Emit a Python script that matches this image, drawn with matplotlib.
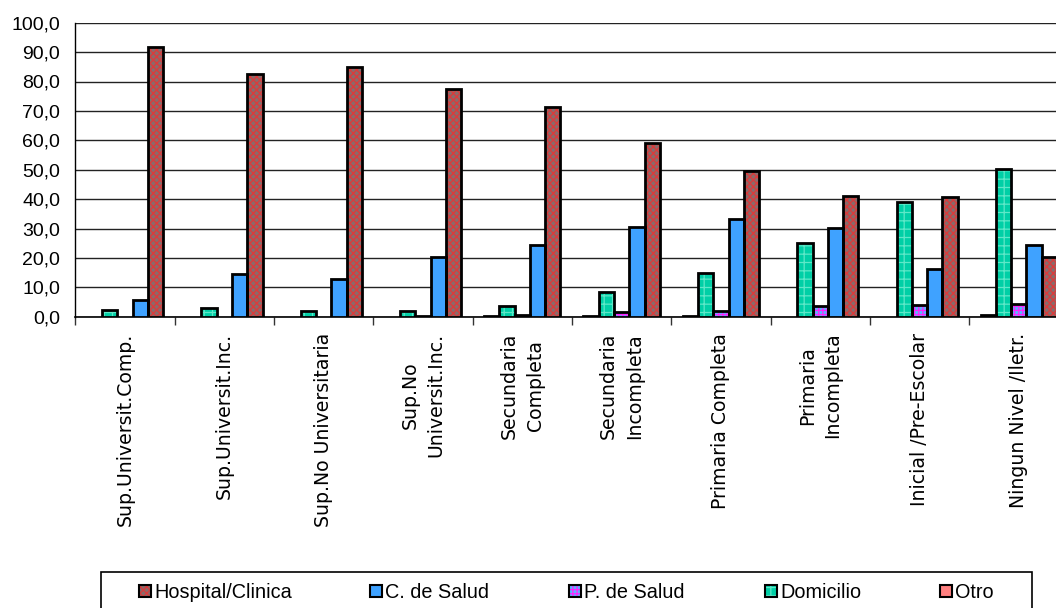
import numpy as np
import matplotlib
matplotlib.use("Agg")
import matplotlib.pyplot as plt
from matplotlib.patches import Patch, Rectangle

categories = ["Sup.Universit.Comp.", "Sup.Universit.Inc.", "Sup.No Universitaria",
              "Sup.No\nUniversit.Inc.", "Secundaria\nCompleta", "Secundaria\nIncompleta",
              "Primaria Completa", "Primaria\nIncompleta", "Inicial /Pre-Escolar",
              "Ningun Nivel /Iletr."]

hospital = [91.8, 82.5, 85.0, 77.3, 71.3, 59.2, 49.6, 41.2, 40.8, 20.2]
c_salud = [5.8, 14.5, 12.9, 20.4, 24.4, 30.6, 33.2, 30.1, 16.3, 24.4]
p_salud = [0.0, 0.0, 0.0, 0.3, 0.5, 1.5, 1.8, 3.6, 4.0, 4.3]
domicilio = [2.3, 3.0, 2.1, 2.0, 3.6, 8.4, 14.9, 25.0, 38.9, 50.3]
otro = [0.0, 0.0, 0.0, 0.0, 0.1, 0.1, 0.2, 0.0, 0.0, 0.7]

series_names = ["Hospital/Clinica", "C. de Salud", "P. de Salud", "Domicilio", "Otro"]
yticks = list(range(0, 101, 10))
ytick_labels = [f"{v:.1f}".replace(".", ",") for v in yticks]

# style: (facecolor, hatch, hatchcolor)
styles = {
    "Hospital/Clinica": ("#8a6a6a", "xxxxx", "#dd3a3a"),
    "C. de Salud": ("#3fa2ff", "", "#3fa2ff"),
    "P. de Salud": ("#5fb0ff", "++++", "#ff22ff"),
    "Domicilio": ("#00cfa6", "++", "#5ee8c8"),
    "Otro": ("#ff8080", "", "#ff8080"),
}

plt.rcParams["hatch.linewidth"] = 0.9
W, H = 1056, 608
fig = plt.figure(figsize=(W / 100, H / 100), dpi=100)
left_px, right_px, top_px, bot_px = 75.3, 1068.5, 22.7, 316.7
ax = fig.add_axes([left_px / W, 1 - bot_px / H, (right_px - left_px) / W, (bot_px - top_px) / H])

n_cat = len(categories)
x = np.arange(n_cat) + 0.5
bw = 0.154
# drawing order within group (left to right): Otro, Domicilio, P. de Salud, C. de Salud, Hospital
order = [("Otro", otro), ("Domicilio", domicilio), ("P. de Salud", p_salud),
         ("C. de Salud", c_salud), ("Hospital/Clinica", hospital)]
handles = {}
for i, (name, vals) in enumerate(order):
    v = np.array(vals, dtype=float)
    v = np.where(v > 0, v, np.nan)
    pos = x + (i - 2) * bw
    fc, hatch, hc = styles[name]
    ax.bar(pos, v, width=bw, color=fc, edgecolor=hc, hatch=hatch, linewidth=0, zorder=3)
    ax.bar(pos, v, width=bw, fill=False, edgecolor="black", linewidth=2.0, zorder=4)
    handles[name] = (Patch(facecolor=fc, edgecolor=hc, hatch=hatch, linewidth=0),
                     Patch(fill=False, edgecolor="black", linewidth=1.5))

ax.set_xlim(0, n_cat)
ax.set_ylim(0, 100)
ax.set_yticks(yticks)
ax.set_yticklabels(ytick_labels, fontsize=14, family="Liberation Sans")
ax.tick_params(axis="y", length=0, pad=11)
ax.grid(axis="y", color="#222222", linewidth=1.0, zorder=0)
ax.set_axisbelow(True)

ax.set_xticks(np.arange(n_cat + 1))
ax.set_xticklabels([])
ax.set_xticks(x, minor=True)
ax.set_xticklabels(categories, minor=True, rotation=90, ha="center", va="top",
                   multialignment="center", fontsize=13.6, family="DejaVu Sans",
                   linespacing=1.45)
ax.tick_params(axis="x", which="major", length=6, width=1, color="#333333", direction="out")
ax.tick_params(axis="x", which="minor", length=0, pad=11.5)

for s in ["top", "right"]:
    ax.spines[s].set_visible(False)
ax.spines["left"].set_linewidth(1.0)
ax.spines["bottom"].set_linewidth(1.2)

# legend frame and entries
fig.patches.append(Rectangle((101 / W, -0.1), (1032 - 101) / W, (H - 572) / H + 0.1,
                             transform=fig.transFigure, fill=False,
                             edgecolor="black", linewidth=1.2))
legend_x_px = [139, 370, 569, 765, 940]
for name, lx in zip(series_names, legend_x_px):
    leg = fig.legend([handles[name]], [name], loc="center left",
                     bbox_to_anchor=(lx / W, 1 - 592.5 / H),
                     frameon=False, handlelength=0.6, handleheight=0.6,
                     handletextpad=0.15, borderpad=0, borderaxespad=0,
                     prop={"family": "Liberation Sans", "size": 14.3})

fig.savefig("out.png", dpi=100)
